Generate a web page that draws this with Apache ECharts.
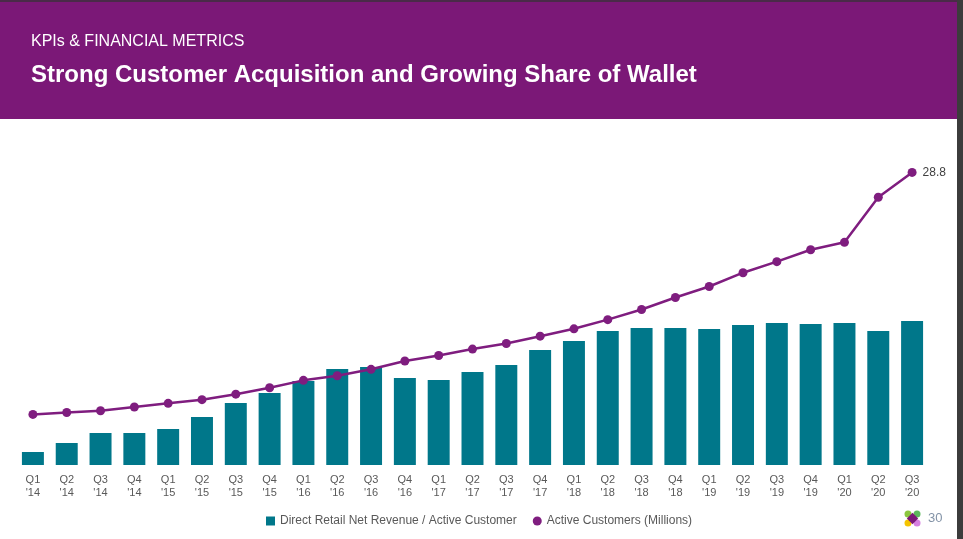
<!DOCTYPE html>
<html>
<head>
<meta charset="utf-8">
<script src="https://cdn.jsdelivr.net/npm/echarts@6/dist/echarts.min.js"></script>
<style>
html,body{margin:0;padding:0;background:#fff;}
#chart{width:963px;height:539px;}
</style>
</head>
<body>
<div id="chart"></div>
<script>
const categories = ["Q1\n'14","Q2\n'14","Q3\n'14","Q4\n'14","Q1\n'15","Q2\n'15","Q3\n'15","Q4\n'15","Q1\n'16","Q2\n'16","Q3\n'16","Q4\n'16","Q1\n'17","Q2\n'17","Q3\n'17","Q4\n'17","Q1\n'18","Q2\n'18","Q3\n'18","Q4\n'18","Q1\n'19","Q2\n'19","Q3\n'19","Q4\n'19","Q1\n'20","Q2\n'20","Q3\n'20"];
// relative bar heights (axis hidden in the original)
const revenuePerCustomer = [13,22,32,32,36,48,62,72,84,96,98,87,85,93,100,115,124,134,137,137,136,140,142,141,142,134,144];
const activeCustomers = [2.5,2.7,2.9,3.3,3.7,4.1,4.7,5.4,6.2,6.7,7.4,8.3,8.9,9.6,10.2,11.0,11.8,12.8,13.9,15.2,16.4,17.9,19.1,20.4,21.2,26.1,28.8];
const seriesNames = ["Direct Retail Net Revenue / Active Customer","Active Customers (Millions)"];

const chart = echarts.init(document.getElementById('chart'), null, {renderer:'canvas'});
const lastIdx = activeCustomers.length - 1;
chart.setOption({
  animation:false,
  backgroundColor:'#ffffff',
  textStyle:{fontFamily:'Liberation Sans, Arial, sans-serif'},
  grid:{left:16,right:34,top:160,bottom:74,containLabel:false},
  xAxis:{
    type:'category',data:categories,
    axisLine:{show:false},axisTick:{show:false},
    axisLabel:{color:'#595959',fontSize:11,lineHeight:13,margin:8,interval:0}
  },
  yAxis:[
    {type:'value',min:0,max:305,show:false,splitLine:{show:false}},
    {type:'value',min:-3,max:30.15,show:false,splitLine:{show:false}}
  ],
  legend:{
    data:[{name:seriesNames[0],icon:'rect'},{name:seriesNames[1],icon:'circle'}],
    left:261,top:510,itemWidth:9,itemHeight:9,itemGap:16,
    textStyle:{color:'#595959',fontSize:12,fontFamily:'Liberation Sans, Arial, sans-serif'}
  },
  series:[
    {name:seriesNames[0],type:'bar',data:revenuePerCustomer,yAxisIndex:0,
     barCategoryGap:'35%',itemStyle:{color:'#00778a'}},
    {name:seriesNames[1],type:'line',data:activeCustomers.map((v,i)=> i===lastIdx ? {value:v,label:{show:true,position:'right',distance:6,color:'#404040',fontSize:12,formatter:'{c}'}} : v),
     yAxisIndex:1,symbol:'circle',symbolSize:9,
     lineStyle:{color:'#7f1d7f',width:2.5},itemStyle:{color:'#7f1d7f'},z:3}
  ],
  graphic:[
    {type:'rect',shape:{x:0,y:0,width:963,height:119},style:{fill:'#7b1877'},z:-1},
    {type:'rect',shape:{x:0,y:0,width:963,height:2},style:{fill:'#4a2a48'}},
    {type:'rect',shape:{x:957,y:0,width:6,height:539},style:{fill:'#3c3c3c'}},
    {type:'text',left:31,top:34,style:{text:'KPIs & FINANCIAL METRICS',fill:'#ffffff',font:'16px "Liberation Sans", Arial, sans-serif'}},
    {type:'text',left:31,top:63,style:{text:'Strong Customer Acquisition and Growing Share of Wallet',fill:'#ffffff',font:'bold 24px "Liberation Sans", Arial, sans-serif'}},
    {type:'circle',shape:{cx:908,cy:514,r:3.5},style:{fill:'#8cc63f'}},
    {type:'circle',shape:{cx:917,cy:514,r:3.5},style:{fill:'#5cb85c'}},
    {type:'circle',shape:{cx:908,cy:523,r:3.5},style:{fill:'#f5c400'}},
    {type:'circle',shape:{cx:917,cy:523,r:3.5},style:{fill:'#d67fe0'}},
    {type:'rect',shape:{x:908.5,y:514.5,width:8,height:8},rotation:Math.PI/4,originX:912.5,originY:518.5,style:{fill:'#7b1877'}},
    {type:'text',left:928,top:512,style:{text:'30',fill:'#8393a7',font:'13px "Liberation Sans", Arial, sans-serif'}}
  ]
});
</script>
</body>
</html>
